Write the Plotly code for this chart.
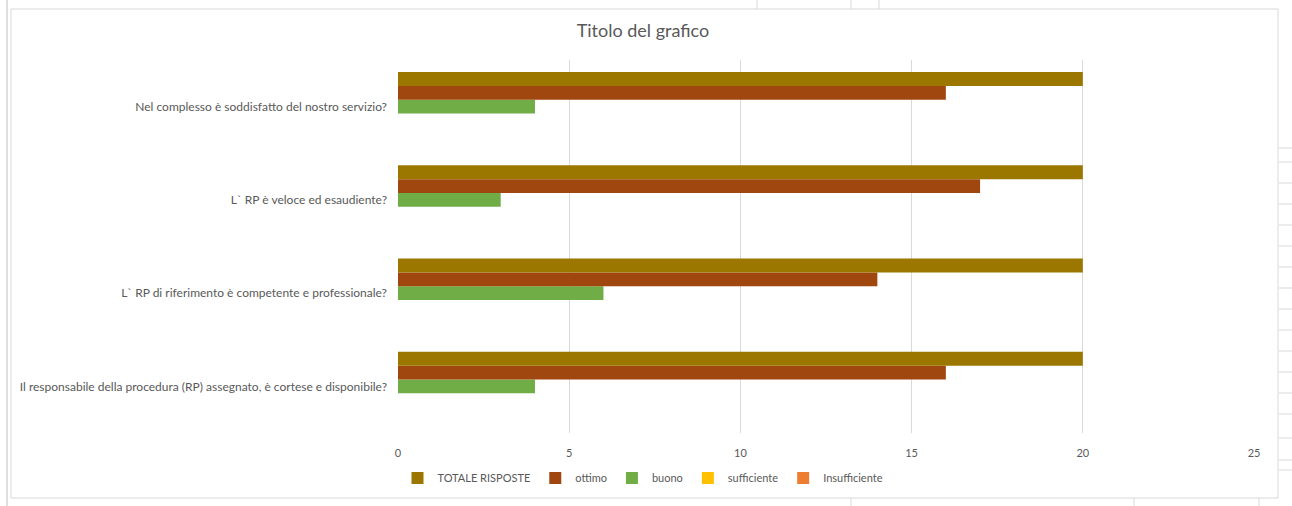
import plotly.graph_objects as go

categories = [
    "Il responsabile della procedura (RP) assegnato, è cortese e disponibile?",
    "L` RP di riferimento è competente e professionale?",
    "L` RP è veloce ed esaudiente?",
    "Nel complesso è soddisfatto del nostro servizio?",
]
totale = [20, 20, 20, 20]
ottimo = [16, 14, 17, 16]
buono = [4, 6, 3, 4]
sufficiente = [0, 0, 0, 0]
insufficiente = [0, 0, 0, 0]

series = [
    ("Insufficiente", insufficiente, "#ED7D31"),
    ("sufficiente", sufficiente, "#FFC000"),
    ("buono", buono, "#70AD47"),
    ("ottimo", ottimo, "#A0460F"),
    ("TOTALE RISPOSTE", totale, "#9C7700"),
]

W, H = 1292, 506
L, R, T, B = 398, 1254, 60, 433
pw, ph = R - L, B - T

def px(x):
    return (x - L) / pw

def py(y):
    return (B - y) / ph

fig = go.Figure()
for name, vals, col in series:
    fig.add_trace(go.Bar(y=categories, x=vals, name=name, orientation="h",
                         marker=dict(color=col, line=dict(width=0))))

font = "Lato, Open Sans, sans-serif"
shapes = [
    dict(type="rect", xref="paper", yref="paper", x0=px(11), x1=px(1278), y0=py(498), y1=py(9),
         line=dict(color="#D9D9D9", width=1), layer="below"),
    dict(type="line", xref="paper", yref="paper", x0=px(7), x1=px(7), y0=py(0), y1=py(506),
         line=dict(color="#BFBFBF", width=1)),
]
for xv in [757, 851, 879]:
    shapes.append(dict(type="line", xref="paper", yref="paper", x0=px(xv), x1=px(xv), y0=py(0), y1=py(9),
                       line=dict(color="#D9D9D9", width=1)))
for xv in [851, 1134, 1259]:
    shapes.append(dict(type="line", xref="paper", yref="paper", x0=px(xv), x1=px(xv), y0=py(498), y1=py(506),
                       line=dict(color="#D9D9D9", width=1)))
for yv in [148, 162, 183, 204, 225, 246, 267, 288, 309, 330, 351, 372, 393, 414, 438, 460, 470]:
    shapes.append(dict(type="line", xref="paper", yref="paper", x0=px(1279), x1=px(1292), y0=py(yv), y1=py(yv),
                       line=dict(color="#D9D9D9", width=1)))

fig.update_layout(
    width=W, height=H,
    margin=dict(l=L, r=W - R, t=T, b=H - B),
    paper_bgcolor="white", plot_bgcolor="white",
    barmode="group", bargap=0.26, bargroupgap=0,
    font=dict(family=font, size=12, color="#595959"),
    title=dict(text="Titolo del grafico", x=643 / W, xanchor="center", y=1 - 31 / H, yanchor="middle",
               font=dict(family=font, size=18, color="#595959")),
    xaxis=dict(range=[0, 25], dtick=5, showgrid=True, gridcolor="#D9D9D9", zeroline=False,
               showline=False, ticks="", ticklabelstandoff=12,
               tickfont=dict(size=11, color="#595959")),
    yaxis=dict(showgrid=False, zeroline=False, showline=False, ticks="", ticklabelstandoff=10,
               tickfont=dict(size=12, color="#595959")),
    legend=dict(orientation="h", traceorder="reversed", x=px(643), xanchor="center",
                y=py(478), yanchor="middle", font=dict(size=11, color="#595959"),
                itemwidth=30),
    shapes=shapes,
    showlegend=True,
)

fig.write_html("out.html", config={"displayModeBar": False},
               post_script="document.body.style.margin='0';")
